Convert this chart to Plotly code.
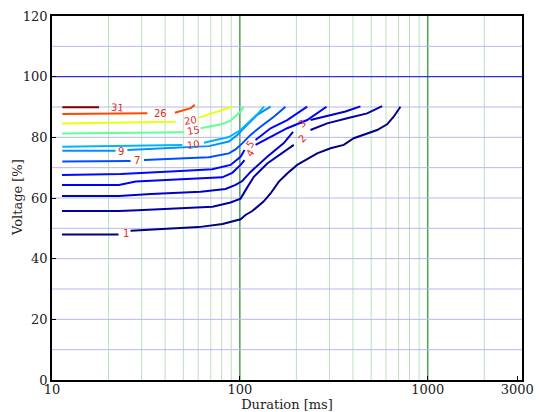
import math
import plotly.graph_objects as go

# ---- data (contour levels) ----
levels = [1, 2, 3, 4, 5, 7, 9, 10, 15, 20, 26, 31]

x_1 = [11.3, 22.6, None, 26.2, 40.3, 60.3, 80.9, 91.1, 100.9, 107.2, 116.4, 133.7, 145.7, 161.3, 178.7, 202, 228.3, 258, 303.7, 357.5, 404, 456.6, 538, 608, 659, 716]
y_1 = [48.0, 48.0, None, 49.2, 49.7, 50.4, 51.4, 52.2, 53.0, 54.4, 55.7, 58.8, 61.5, 65.4, 68.1, 70.9, 72.9, 74.7, 76.4, 77.5, 79.7, 80.8, 82.4, 84.3, 86.8, 90.1]

x_2 = [11.3, 22.7, 28.6, 49.6, 71.6, 89.2, 100.9, 109.5, 118.7, 139.9, 171.4, 193.7, None, 237.7, 291.6, 372.7, 476, 572]
y_2 = [55.7, 55.7, 56.0, 56.6, 57.1, 58.5, 59.8, 63.5, 67.0, 71.4, 75.3, 77.5, None, 82.4, 84.6, 86.3, 87.9, 90.3]

x_3 = [11.3, 22.7, 33.6, 61.8, 83.9, 94.9, 103, 114, 139.9, 171.4, 192, None, 237.7, 303.7, 365, 438.5]
y_3 = [60.7, 60.7, 61.3, 62.1, 63.0, 64.3, 65.6, 68.6, 73.6, 78.1, 81.8, None, 85.7, 87.4, 88.5, 90.2]

x_4 = [11.3, 22.7, 27.9, 80.6, 91.1, 100.9, 105.9, None, 121.2, 145.7, 178.7, 228.3, 289.2]
y_4 = [64.3, 64.3, 65.4, 66.8, 68.3, 70.9, 72.5, None, 77.5, 80.2, 83.0, 85.7, 90.1]

x_5 = [11.3, 23.2, 48.4, 71.3, 89.2, 100.9, 105.9, None, 121.2, 145.7, 178.7, 228.3]
y_5 = [67.6, 67.9, 68.9, 69.5, 70.9, 73.6, 75.8, None, 79.1, 83.0, 85.7, 90.1]

x_7 = [11.35, 26.2, None, 30.9, 68.4, 87.4, 94.9, 103, 114, 128.9, 151.7, 175]
y_7 = [72.0, 72.2, None, 72.5, 73.4, 74.7, 76.0, 78.0, 80.8, 83.5, 86.8, 90.1]

x_9 = [11.35, 21.8, None, 25.2, 49.4, 68.4, 87.4, 96.9, 109.5, 123.8, 145.7]
y_9 = [75.6, 75.6, None, 75.8, 76.6, 77.1, 78.6, 80.8, 84.1, 87.4, 90.1]

x_10 = [11.35, 49.4, None, 64.4, 87.4, 100.9, 114, 125.8, 134.2]
y_10 = [76.9, 77.5, None, 78.2, 80.1, 82.4, 85.4, 88.0, 90.1]

x_15 = [11.3, 50.4, None, 61.8, 78.9, 89.2, 100.9, 105]
y_15 = [81.3, 81.7, None, 83.0, 84.2, 85.5, 88.5, 90.2]

x_20 = [11.35, 45.5, None, 60.5, 74.2, 89.2, 91.1]
y_20 = [84.6, 85.1, None, 86.5, 88.4, 89.9, 90.1]

x_26 = [11.35, 32.2, None, 45.1, 54.7, 57.6]
y_26 = [87.7, 87.9, None, 88.1, 89.6, 90.7]

x_31 = [11.35, 17.8]
y_31 = [89.9, 89.9]

series_x = [x_1, x_2, x_3, x_4, x_5, x_7, x_9, x_10, x_15, x_20, x_26, x_31]
series_y = [y_1, y_2, y_3, y_4, y_5, y_7, y_9, y_10, y_15, y_20, y_26, y_31]

# inline contour labels
label_text = ["1", "2", "3", "4", "5", "7", "9", "10", "15", "20", "26", "31"]
label_x = [24.7, 214.7, 214.7, 113, 113, 28.5, 23.2, 56.7, 56.7, 54.7, 37.9, 22.4]
label_y = [48.3, 79.7, 84.6, 74.7, 77.7, 72.4, 75.2, 77.5, 82.1, 85.7, 88.0, 90.0]
label_angle = [0, -45, -40, -55, -55, 0, 0, -8, -10, -10, 0, 5]

x_ticks = [10, 100, 1000, 3000]
y_ticks = [0, 20, 40, 60, 80, 100, 120]
x_minor_grid = [20, 30, 40, 50, 60, 70, 80, 90, 200, 300, 400, 500, 600, 700, 800, 900, 2000]
x_major_grid = [100, 1000]
y_grid = [10, 20, 30, 40, 50, 60, 70, 80, 90, 110]
y_major_grid = [100]

# matplotlib 'jet' segment data
JET = {
    "r": [(0, 0), (0.35, 0), (0.66, 1), (0.89, 1), (1, 0.5)],
    "g": [(0, 0), (0.125, 0), (0.375, 1), (0.64, 1), (0.91, 0), (1, 0)],
    "b": [(0, 0.5), (0.11, 1), (0.34, 1), (0.65, 0), (1, 0)],
}


def seg(pts, v):
    for (x0, y0), (x1, y1) in zip(pts[:-1], pts[1:]):
        if x0 <= v <= x1:
            return y0 + (y1 - y0) * (v - x0) / (x1 - x0)
    return pts[-1][1]


def jet(v):
    return "rgb(%d,%d,%d)" % tuple(round(seg(JET[k], v) * 255) for k in "rgb")


fig = go.Figure()
lo, hi = min(levels), max(levels)
for lev, xs, ys in zip(levels, series_x, series_y):
    fig.add_trace(go.Scatter(x=xs, y=ys, mode="lines", connectgaps=False,
                             line=dict(color=jet((lev - lo) / (hi - lo)), width=2),
                             hoverinfo="skip", showlegend=False))

for t, xv, yv, a in zip(label_text, label_x, label_y, label_angle):
    fig.add_annotation(x=math.log10(xv), y=yv, text=t, showarrow=False,
                       textangle=a, font=dict(family="DejaVu Sans", size=10, color="#e02828"))

# y-axis title placed as an annotation for exact position
fig.add_annotation(xref="paper", yref="paper", x=0, y=0.5, xshift=-35, text="Voltage [%]",
                   textangle=-90, showarrow=False, xanchor="center", yanchor="middle",
                   font=dict(family="DejaVu Serif", size=13, color="#222222"))

shapes = []
for g in x_minor_grid:
    shapes.append(dict(type="line", xref="x", yref="paper", x0=g, x1=g, y0=0, y1=1,
                       line=dict(color="#bfe0bf", width=1), layer="below"))
for g in x_major_grid:
    shapes.append(dict(type="line", xref="x", yref="paper", x0=g, x1=g, y0=0, y1=1,
                       line=dict(color="#4fa24f", width=1.5), layer="below"))
for g in y_grid:
    shapes.append(dict(type="line", xref="paper", yref="y", x0=0, x1=1, y0=g, y1=g,
                       line=dict(color="#b8b8ec", width=1), layer="below"))
for g in y_major_grid:
    shapes.append(dict(type="line", xref="paper", yref="y", x0=0, x1=1, y0=g, y1=g,
                       line=dict(color="#3030e0", width=1.2), layer="below"))

fig.update_layout(
    width=539, height=412,
    margin=dict(l=52, r=17, t=16, b=32),
    paper_bgcolor="white", plot_bgcolor="white",
    shapes=shapes,
    font=dict(family="DejaVu Serif", size=13, color="#222222"),
    xaxis=dict(type="log", range=[1, 3.502], tickvals=x_ticks,
               ticktext=[str(v) for v in x_ticks], showgrid=False, zeroline=False,
               showline=True, mirror=True, linecolor="black", linewidth=1.5,
               ticks="inside", ticklen=4, tickcolor="black", automargin=False,
               ticklabelstandoff=-3,
               title=dict(text="Duration [ms]", standoff=0, font=dict(size=13))),
    yaxis=dict(range=[0, 120], tickvals=y_ticks, showgrid=False, zeroline=False,
               showline=True, mirror=True, linecolor="black", linewidth=1.5,
               ticks="inside", ticklen=4, tickcolor="black", automargin=False),
)

fig.write_html("out.html", config={"displayModeBar": False},
               post_script="document.body.style.margin='0px';document.body.style.overflow='hidden';")
